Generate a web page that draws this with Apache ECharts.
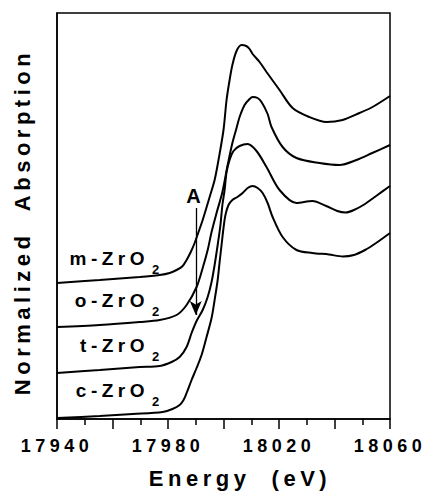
<!DOCTYPE html>
<html>
<head>
<meta charset="utf-8">
<script src="https://cdn.jsdelivr.net/npm/echarts@6/dist/echarts.min.js"></script>
<style>
  html, body { margin: 0; padding: 0; background: #fff; }
  #chart { width: 431px; height: 491px; }
  /* heavy, widely tracked lettering */
  #chart text {
    letter-spacing: 4.5px;
    font-family: "Liberation Sans", Arial, Helvetica, sans-serif !important;
    font-weight: 700 !important;
  }
</style>
</head>
<body>
<div id="chart"></div>
<script>
// Zr K-edge XANES of the four ZrO2 polymorphs, stacked with vertical offsets
const energyTickLabels = ['17940', '17980', '18020', '18060'];
const phaseNames = ['m-ZrO2', 'o-ZrO2', 't-ZrO2', 'c-ZrO2'];

// [energy (eV), normalized absorption + offset]
const mZrO2 = [
  [17940, 1.36], [17955.4, 1.39], [17969.8, 1.42], [17977, 1.44], [17980.6, 1.46],
  [17983.1, 1.49], [17985.3, 1.53], [17986.7, 1.59], [17988.2, 1.67], [17989.6, 1.76],
  [17991, 1.87], [17992.5, 1.99], [17995, 2.22], [17996.8, 2.39], [17998.2, 2.59],
  [18000, 2.89], [18001.1, 3.19], [18002.2, 3.39], [18003.2, 3.54], [18004.7, 3.68],
  [18006.5, 3.74], [18008.2, 3.73], [18009.4, 3.70], [18010.5, 3.65], [18013, 3.57],
  [18015.5, 3.47], [18020.2, 3.29], [18024.9, 3.11], [18030.9, 3.02], [18037.1, 2.97],
  [18042.9, 2.99], [18049, 3.06], [18053.7, 3.12], [18060, 3.23]
];
const oZrO2 = [
  [17940, 0.92], [17955.4, 0.94], [17969.8, 0.97], [17977, 0.99], [17983.1, 1.04],
  [17986.7, 1.14], [17990.3, 1.32], [17992.5, 1.51], [17994.3, 1.69], [17995.7, 1.87],
  [17997.5, 2.06], [17999.6, 2.27], [18001.5, 2.54], [18003.2, 2.76], [18004.7, 2.91],
  [18005.8, 3.02], [18007.6, 3.14], [18009.4, 3.20], [18010.5, 3.22], [18012.3, 3.21],
  [18013.7, 3.17], [18015.9, 3.05], [18017.3, 2.92], [18021.3, 2.72], [18026.3, 2.61],
  [18034.6, 2.56], [18041.8, 2.54], [18047.9, 2.59], [18053.6, 2.66], [18060, 2.74]
];
const tZrO2 = [
  [17940, 0.46], [17955.4, 0.49], [17969.8, 0.52], [17977, 0.53], [17981.3, 0.57],
  [17984.2, 0.62], [17986.7, 0.72], [17988.5, 0.86], [17990.3, 0.98], [17992.5, 1.09],
  [17994.3, 1.22], [17995.7, 1.37], [17996.8, 1.54], [17997.9, 1.74], [17998.9, 1.94],
  [17999.6, 2.14], [18000.4, 2.29], [18001.1, 2.47], [18002.2, 2.59], [18003.6, 2.68],
  [18005.8, 2.73], [18008.7, 2.75], [18011.9, 2.68], [18015.5, 2.52], [18020.2, 2.29],
  [18026.3, 2.16], [18032, 2.18], [18037, 2.13], [18041, 2.08], [18044, 2.065],
  [18047, 2.09], [18051, 2.15], [18055, 2.23], [18060, 2.33]
];
const cZrO2 = [
  [17940, 0.01], [17955.4, 0.03], [17967.3, 0.05], [17978.1, 0.07], [17981.6, 0.10],
  [17984.2, 0.14], [17985.6, 0.19], [17986.7, 0.26], [17988.5, 0.39], [17990.3, 0.51],
  [17992.1, 0.64], [17993.9, 0.82], [17995.7, 1.01], [17996.8, 1.19], [17997.9, 1.39],
  [17998.6, 1.57], [17999.3, 1.74], [18000, 1.91], [18000.7, 2.04], [18001.8, 2.14],
  [18003.2, 2.19], [18005, 2.22], [18006.9, 2.26], [18008.7, 2.31], [18010.5, 2.33],
  [18012.3, 2.31], [18014.1, 2.26], [18015.9, 2.16], [18017.7, 2.02], [18021.3, 1.82],
  [18026.3, 1.69], [18032, 1.66], [18038, 1.645], [18043, 1.625], [18047, 1.64],
  [18051, 1.69], [18055, 1.76], [18060, 1.86]
];
const spectra = [mZrO2, oZrO2, tZrO2, cZrO2];

// pre-edge feature "A": energy and the vertical extent of its arrow
const featureLabel = 'A';
const featureEnergy = 17990;
const featureArrowFrom = 2.11;
const featureArrowTo = 1.04;

const FONT = '"Liberation Sans", Arial, Helvetica, sans-serif';
const chart = echarts.init(document.getElementById('chart'), null, { renderer: 'svg' });

// label layout for the phase names: pixel centre line, right end of "ZrO", start of the subscript
const phaseLabelY = [258, 300, 345, 390];
const phaseLabelRight = 149;
const phaseSubLeft = 152;

const graphics = [];
phaseNames.forEach((name, i) => {
  graphics.push({
    type: 'text', x: phaseLabelRight, y: phaseLabelY[i], silent: true,
    style: {
      text: name.slice(0, -1), font: 'bold 19px ' + FONT, fill: '#000',
      textAlign: 'right', align: 'right', textVerticalAlign: 'middle', verticalAlign: 'middle'
    }
  });
  graphics.push({
    type: 'text', x: phaseSubLeft, y: phaseLabelY[i] + 11, silent: true,
    style: {
      text: name.slice(-1), font: 'bold 13px ' + FONT, fill: '#000',
      textAlign: 'left', align: 'left', textVerticalAlign: 'middle', verticalAlign: 'middle'
    }
  });
});
graphics.push({
  type: 'text', x: 240, y: 478, silent: true,
  style: {
    text: 'Energy  (eV)', font: 'bold 22px ' + FONT, fill: '#000',
    textAlign: 'center', align: 'center', textVerticalAlign: 'middle', verticalAlign: 'middle'
  }
});
graphics.push({
  type: 'text', x: 22, y: 222, rotation: Math.PI / 2, silent: true,
  style: {
    text: 'Normalized  Absorption', font: 'bold 22px ' + FONT, fill: '#000',
    textAlign: 'center', align: 'center', textVerticalAlign: 'middle', verticalAlign: 'middle'
  }
});

const series = spectra.map((data, i) => ({
  name: phaseNames[i],
  type: 'line',
  data: data,
  showSymbol: false,
  smooth: 0.3,
  silent: true,
  lineStyle: { color: '#000', width: 2 },
  z: 3
}));

// arrow marking the pre-edge feature
series[2].markLine = {
  silent: true,
  symbol: ['none', 'arrow'],
  symbolSize: [9, 14],
  animation: false,
  lineStyle: { color: '#000', width: 1.3, type: 'solid' },
  label: {
    show: true, position: 'start', formatter: featureLabel, distance: 2,
    color: '#000', fontFamily: FONT, fontWeight: 'bold', fontSize: 20
  },
  data: [[{ coord: [featureEnergy, featureArrowFrom] }, { coord: [featureEnergy, featureArrowTo] }]]
};

chart.setOption({
  animation: false,
  backgroundColor: '#fff',
  grid: {
    left: 57, right: 41, top: 13, bottom: 72,
    show: true, borderColor: '#000', borderWidth: 1.5, backgroundColor: 'transparent'
  },
  xAxis: {
    type: 'value', min: 17940, max: 18060, interval: 20,
    axisLine: { show: true, lineStyle: { color: '#000', width: 1.5 } },
    axisTick: { show: true, length: 10, lineStyle: { color: '#000', width: 1.5 } },
    minorTick: { show: true, splitNumber: 2, length: 6, lineStyle: { color: '#000', width: 1.5 } },
    splitLine: { show: false },
    axisLabel: {
      margin: 18, color: '#000', fontFamily: FONT, fontWeight: 'bold', fontSize: 18,
      formatter: v => energyTickLabels.includes(String(v)) ? String(v) : ''
    }
  },
  yAxis: {
    type: 'value', min: 0, max: 4.06,
    axisLine: { show: true, lineStyle: { color: '#000', width: 1.5 } },
    axisTick: { show: false }, axisLabel: { show: false }, splitLine: { show: false }
  },
  graphic: graphics,
  series: series
});
</script>
</body>
</html>
